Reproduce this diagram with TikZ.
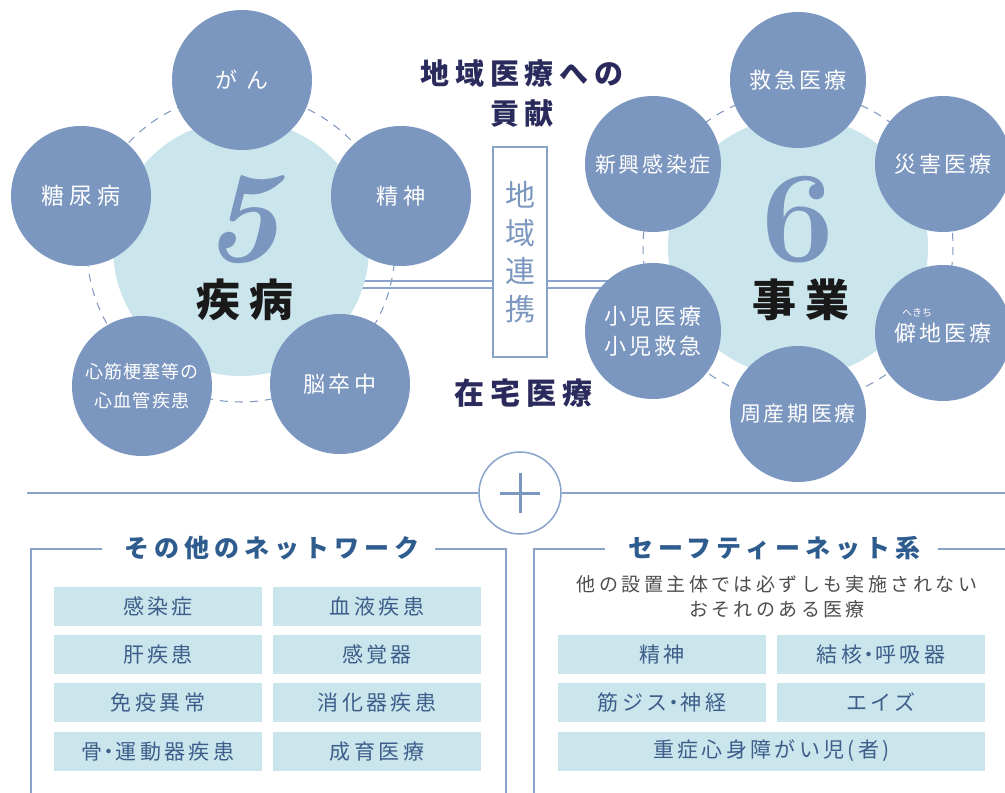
\documentclass[tikz,border=0pt]{standalone}
\usepackage{fontspec}
\newfontfamily\jp{Noto Sans CJK JP}
\usetikzlibrary{backgrounds}
\definecolor{cblue}{HTML}{7B96BF}
\definecolor{lblue}{HTML}{CBE5EC}
\definecolor{navy}{HTML}{2A2A5C}
\definecolor{linec}{HTML}{8AA3CB}
\definecolor{cellt}{HTML}{3D5E8A}
\definecolor{titlec}{HTML}{2E5C8E}
\definecolor{subt}{HTML}{4D4D4D}
\newcommand{\fs}[2]{\fontsize{#1}{#2}\selectfont}
\newcommand{\ls}[1]{\addfontfeature{LetterSpace=#1}}
\tikzset{
  dashc/.style={draw=cblue, line width=1, dash pattern=on 8pt off 7pt},
  lightc/.style={circle, fill=lblue, inner sep=0},
  outerL/.style={circle, fill=cblue, minimum size=140, inner sep=0, text=white, align=center, font=\jp\fs{22}{30}\ls{15}},
  outerR/.style={circle, fill=cblue, minimum size=136, inner sep=0, text=white, align=center, font=\jp\fs{22}{30}\ls{15}},
  link/.style={draw=linec, line width=1.5},
  heading/.style={text=navy, font=\jp\bfseries\fs{29}{36}\ls{20}, align=center},
  cell/.style={fill=lblue, minimum width=208, minimum height=39, inner sep=0, text=cellt, font=\jp\fs{21}{24}\ls{16}},
  frame/.style={draw=linec, line width=1.5},
  boxtitle/.style={text=titlec, font=\jp\bfseries\fs{25}{30}\ls{20}}
}
\begin{document}
\begin{tikzpicture}[x=1pt,y=-1pt]
\useasboundingbox (0,0) rectangle (1005,793);
% central box
\node[draw=linec, line width=1.5, fill=white, minimum width=54, minimum height=210, inner sep=0, align=center, text=cblue, font=\jp\fs{30}{38}] (box) at (520,252) {地\\域\\連\\携};
\coordinate (l1) at (300,281); \coordinate (l2) at (300,288);
\coordinate (r1) at (700,281); \coordinate (r2) at (700,288);
\begin{scope}[on background layer]
  \draw[dashc] (241,248) circle[radius=154];
  \draw[dashc] (798,247) circle[radius=155];
  \draw[link] (l1) -- (l1 -| box.west);
  \draw[link] (l2) -- (l2 -| box.west);
  \draw[link] (box.east |- r1) -- (r1);
  \draw[link] (box.east |- r2) -- (r2);
\end{scope}
% left cluster
\node[lightc, minimum size=256] (L) at (241,248) {};
\node[outerL, font=\jp\fs{22}{30}\ls{40}] (gan) at (242,80) {がん};
\node[outerL, font=\jp\fs{23}{30}\ls{20}] (tou) at (81,196) {糖尿病};
\node[outerL] (sei) at (401,196) {精\hspace{5pt}神};
\node[outerL, font=\jp\fs{18}{29}\ls{6}] (shin) at (142,386) {心筋梗塞等の\\心血管疾患};
\node[outerL] (nou) at (340,384) {脳卒中};
\node[text=cblue, font=\fs{130}{130}\bfseries\itshape, inner sep=0] (five) at (242,220) {5};
\node[text=black!90, font=\jp\bfseries\fs{44}{50}\ls{22}, inner sep=0] (shippei) at (245,300) {疾病};
% right cluster
\node[lightc, minimum size=260] (R) at (798,247) {};
\node[outerR] (kyu) at (798,80) {救急医療};
\node[outerR, font=\jp\fs{21}{30}\ls{12}] (shinko) at (653,164) {新興感染症};
\node[outerR] (sai) at (943,164) {災害医療};
\node[outerR] (shoni) at (653,331) {小児医療\\小児救急};
\node[outerR] (heki) at (943,333) {僻地医療};
\node[text=white, font=\jp\fs{10}{12}, inner sep=0] (ruby) at (917,313) {へきち};
\node[outerR, font=\jp\fs{21}{30}\ls{12}] (shu) at (798,414) {周産期医療};
\node[text=cblue, font=\fs{130}{130}\bfseries, inner sep=0] (six) at (798,220) {6};
\node[text=black!90, font=\jp\bfseries\fs{44}{50}\ls{22}, inner sep=0] (jigyo) at (801,300) {事業};
% headings
\node[heading] (h1) at (522,73) {地域医療への};
\node[heading] (h2) at (522,114) {貢献};
\node[heading, font=\jp\bfseries\fs{30}{36}\ls{20}] (h3) at (523,393) {在宅医療};
% divider
\node[circle, draw=linec, line width=1.5, fill=white, minimum size=82, inner sep=0] (plus) at (520,493) {};
\coordinate (dl) at (27,493); \coordinate (dr) at (1005,493);
\draw[link] (dl) -- (plus.west);
\draw[link] (plus.east) -- (dr);
\draw[draw=cblue, line width=3] ([xshift=-20]plus.center) -- ([xshift=20]plus.center);
\draw[draw=cblue, line width=3] ([yshift=-20]plus.center) -- ([yshift=20]plus.center);
% left box
\coordinate (a1) at (102,549); \coordinate (a2) at (31,549); \coordinate (a3) at (31,800);
\coordinate (a4) at (435,549); \coordinate (a5) at (506,549); \coordinate (a6) at (506,800);
\draw[frame] (a1) -- (a2) -- (a3);
\draw[frame] (a4) -- (a5) -- (a6);
\node[boxtitle] (t1) at (272,548) {その他のネットワーク};
\node[cell] (c11) at (158,606.5) {感染症};
\node[cell] (c12) at (377,606.5) {血液疾患};
\node[cell] (c21) at (158,654.5) {肝疾患};
\node[cell] (c22) at (377,654.5) {感覚器};
\node[cell] (c31) at (158,702.5) {免疫異常};
\node[cell] (c32) at (377,702.5) {消化器疾患};
\node[cell] (c41) at (158,751.5) {骨\kern-4pt・\kern-4pt運動器疾患};
\node[cell] (c42) at (377,751.5) {成育医療};
% right box
\coordinate (b1) at (605,549); \coordinate (b2) at (534,549); \coordinate (b3) at (534,800);
\coordinate (b4) at (938,549); \coordinate (b5) at (1010,549);
\draw[frame] (b1) -- (b2) -- (b3);
\draw[frame] (b4) -- (b5);
\node[boxtitle] (t2) at (774,548) {セーフティーネット系};
\node[text=subt, font=\jp\fs{19}{25}\ls{18}, align=center] (sub) at (777,597) {他の設置主体では必ずしも実施されない\\おそれのある医療};
\node[cell] (d11) at (662,654.5) {精神};
\node[cell] (d12) at (881,654.5) {結核\kern-4pt・\kern-4pt呼吸器};
\node[cell] (d21) at (662,702.5) {筋ジス\kern-4pt・\kern-4pt神経};
\node[cell] (d22) at (881,702.5) {エイズ};
\node[cell, minimum width=427] (d3) at (771.5,751) {重症心身障がい児(者)};
\end{tikzpicture}
\end{document}
